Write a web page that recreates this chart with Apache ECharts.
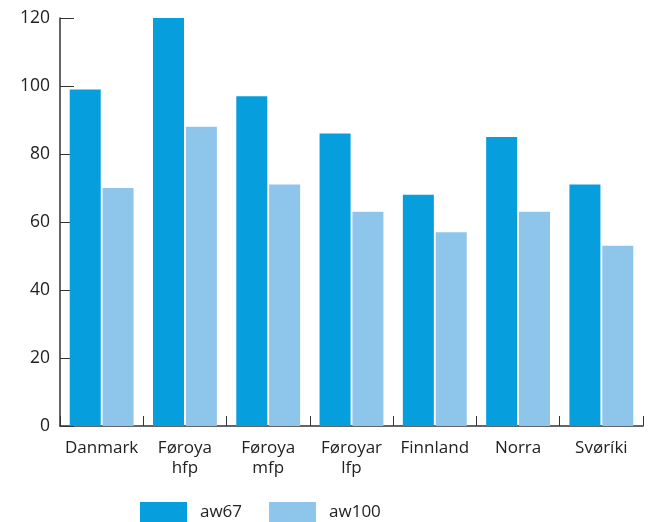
<!DOCTYPE html>
<html><head><meta charset="utf-8">
<script src="https://cdn.jsdelivr.net/npm/echarts@6/dist/echarts.min.js"></script>
<style>html,body{margin:0;padding:0;background:#fff}#c{width:654px;height:522px}</style>
</head><body><div id="c"></div>
<script>
const categories = ['Danmark', 'Føroya\nhfp', 'Føroya\nmfp', 'Føroyar\nlfp', 'Finnland', 'Norra', 'Svøríki'];
const aw67 = [99, 120, 97, 86, 68, 85, 71];
const aw100 = [70, 88, 71, 63, 57, 63, 53];
const yTicks = { min: 0, max: 120, interval: 20 };
const font = '"Open Sans", "Noto Sans", sans-serif';
const chart = echarts.init(document.getElementById('c'), null, { renderer: 'canvas' });
chart.setOption({
  animation: false,
  textStyle: { fontFamily: font },
  grid: { left: 60, right: 11, top: 18, bottom: 96, containLabel: false },
  legend: {
    bottom: 0, left: 135, itemWidth: 47, itemHeight: 20, itemGap: 27,
    icon: 'rect', padding: [0, 5, 0, 5],
    textStyle: { fontSize: 17, color: '#222', fontFamily: font, padding: [0, 0, 0, 8] },
    data: ['aw67', 'aw100']
  },
  xAxis: {
    type: 'category', data: categories,
    axisLine: { lineStyle: { color: '#333', width: 1.5 } },
    axisTick: { show: true, inside: true, length: 10, lineStyle: { color: '#333' } },
    axisLabel: { fontSize: 17, color: '#222', lineHeight: 20, margin: 12, fontFamily: font, interval: 0 }
  },
  yAxis: {
    type: 'value', min: yTicks.min, max: yTicks.max, interval: yTicks.interval,
    axisLine: { show: true, lineStyle: { color: '#333', width: 1.5 } },
    axisTick: { show: true, inside: true, length: 14, lineStyle: { color: '#333' } },
    splitLine: { show: false },
    axisLabel: { fontSize: 17.5, color: '#222', margin: 10, fontFamily: font }
  },
  series: [
    { name: 'aw67', type: 'bar', data: aw67, barWidth: 31, barGap: '6%', itemStyle: { color: '#079edd' } },
    { name: 'aw100', type: 'bar', data: aw100, barWidth: 31, itemStyle: { color: '#8ec5ea' } }
  ]
});
</script></body></html>
